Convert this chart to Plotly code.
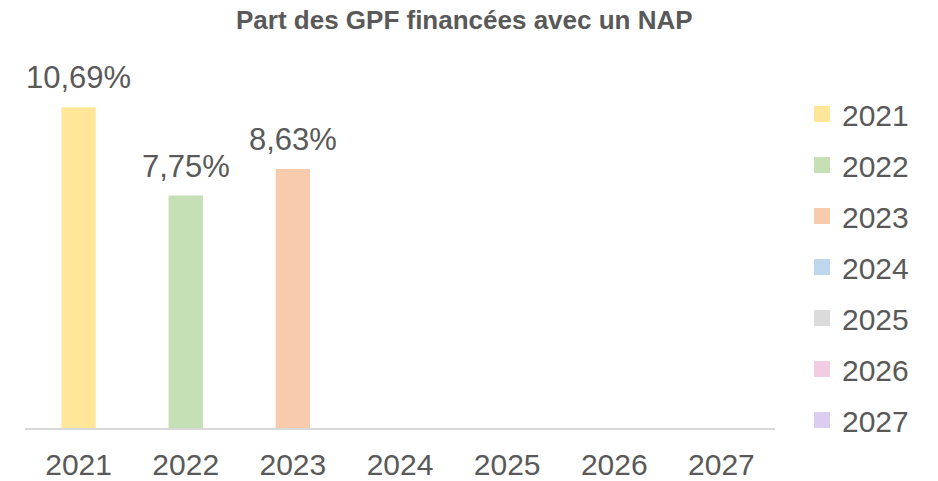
import plotly.graph_objects as go

# Share of GPF financed with an NAP, per year
years = ["2021", "2022", "2023", "2024", "2025", "2026", "2027"]
shares = [10.69, 7.75, 8.63, None, None, None, None]
colors = ["#FFE699", "#C5E0B4", "#F8CBAD", "#BDD7EE", "#DBDBDB", "#F2CCE0", "#DCCDF0"]

TEXT = "#595959"
FONT = "Liberation Sans, Arial, sans-serif"

fig = go.Figure()

for yr, val, col in zip(years, shares, colors):
    # the bar itself (one series per year)
    fig.add_trace(go.Bar(
        x=[yr], y=[val if val is not None else 0],
        marker=dict(color=col, line=dict(width=0)),
        width=0.32, showlegend=False, hoverinfo="skip",
    ))
    # legend swatch for the year
    fig.add_trace(go.Scatter(
        x=[None], y=[None], mode="markers", name=yr,
        marker=dict(symbol="square", size=17, color=col),
        legendgroup=yr,
    ))

# value labels above the bars
for i, val in enumerate(shares):
    if val is None:
        continue
    fig.add_annotation(
        x=i, y=val, xref="x", yref="y",
        text=f"{val:.2f}%".replace(".", ","),
        showarrow=False, yanchor="bottom", yshift=10,
        font=dict(size=31, color=TEXT, family=FONT),
    )

fig.update_layout(
    width=938, height=481,
    margin=dict(l=25, r=163, t=68, b=53),
    paper_bgcolor="white", plot_bgcolor="white",
    barmode="overlay",
    title=dict(
        text="<b>Part des GPF financées avec un NAP</b>",
        x=0.495, xanchor="center", y=1 - 20 / 481, yanchor="middle",
        font=dict(size=26, color=TEXT, family=FONT),
    ),
    xaxis=dict(
        type="category", categoryorder="array", categoryarray=years,
        range=[-0.5, 6.5], automargin=False,
        showline=True, linecolor="#D9D9D9", linewidth=1.5,
        showgrid=False, zeroline=False, ticks="",
        ticklabelstandoff=9,
        tickfont=dict(size=30, color=TEXT, family=FONT),
    ),
    yaxis=dict(
        range=[0, 12], visible=False, showgrid=False, zeroline=False,
        automargin=False,
    ),
    legend=dict(
        x=1.036, xanchor="left", y=0.5 - 19 / 360, yanchor="middle",
        font=dict(size=30, color=TEXT, family=FONT),
        tracegroupgap=9, bgcolor="rgba(0,0,0,0)",
        maxheight=481,
    ),
)

fig.write_html("out.html")
